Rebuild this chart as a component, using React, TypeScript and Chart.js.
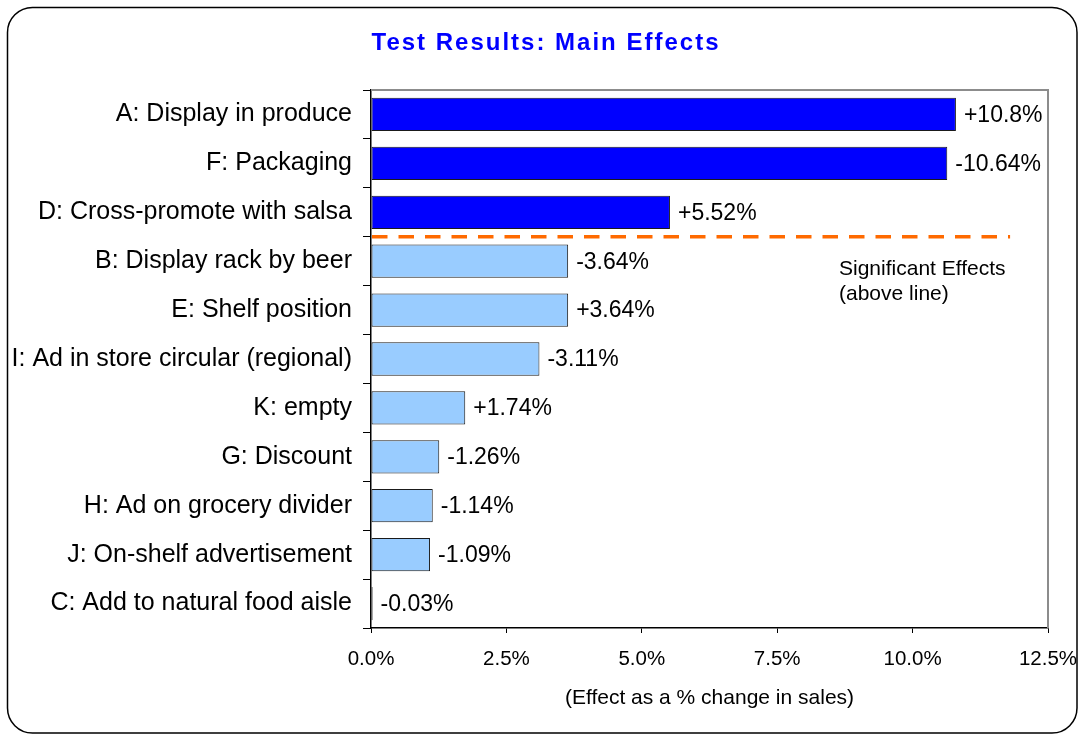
import React, { useEffect, useRef } from "react";
import { Chart, registerables } from "chart.js";

Chart.register(...registerables);

const categories = [
  "A: Display in produce",
  "F: Packaging",
  "D: Cross-promote with salsa",
  "B: Display rack by beer",
  "E: Shelf position",
  "I: Ad in store circular (regional)",
  "K: empty",
  "G: Discount",
  "H: Ad on grocery divider",
  "J: On-shelf advertisement",
  "C: Add to natural food aisle",
];
const effects = [10.8, 10.64, 5.52, 3.64, 3.64, 3.11, 1.74, 1.26, 1.14, 1.09, 0.03];
const effectLabels = [
  "+10.8%",
  "-10.64%",
  "+5.52%",
  "-3.64%",
  "+3.64%",
  "-3.11%",
  "+1.74%",
  "-1.26%",
  "-1.14%",
  "-1.09%",
  "-0.03%",
];
const significant = [true, true, true, false, false, false, false, false, false, false, false];
const xTicks = [0, 2.5, 5, 7.5, 10, 12.5];
const thresholdBoundary = 2.5; // between D and B
const thresholdLineEnd = 11.8;
const chartTitle = "Test Results: Main Effects";
const xAxisTitle = "(Effect as a % change in sales)";
const noteLines = ["Significant Effects", "(above line)"];

const FONT = "'Liberation Sans', Arial, Helvetica, sans-serif";

const decorPlugin = {
  id: "decor",
  beforeDraw(chart: any) {
    const ctx = chart.ctx;
    ctx.save();
    ctx.fillStyle = "#ffffff";
    ctx.fillRect(0, 0, chart.width, chart.height);
    ctx.beginPath();
    ctx.lineWidth = 1.5;
    ctx.strokeStyle = "#000000";
    (ctx as any).roundRect(7.5, 7.5, 1069.5, 725.5, 25);
    ctx.stroke();
    ctx.restore();
  },
  afterDraw(chart: any) {
    const ctx = chart.ctx;
    const area = chart.chartArea;
    const xs = chart.scales.x;
    const ys = chart.scales.y;
    ctx.save();
    // gray top/right frame
    ctx.strokeStyle = "#8c8c8c";
    ctx.lineWidth = 2;
    ctx.beginPath();
    ctx.moveTo(area.left, area.top);
    ctx.lineTo(area.right, area.top);
    ctx.lineTo(area.right, area.bottom);
    ctx.stroke();

    // threshold dashed line
    const ly = ys.getPixelForValue(thresholdBoundary);
    ctx.strokeStyle = "#ff6a00";
    ctx.lineWidth = 3.5;
    ctx.setLineDash([15.5, 11]);
    ctx.beginPath();
    ctx.moveTo(xs.getPixelForValue(0) + 1, ly);
    ctx.lineTo(xs.getPixelForValue(thresholdLineEnd), ly);
    ctx.stroke();
    ctx.setLineDash([]);

    // data labels
    const meta = chart.getDatasetMeta(0);
    ctx.fillStyle = "#000000";
    ctx.font = `23px ${FONT}`;
    ctx.textAlign = "left";
    ctx.textBaseline = "middle";
    meta.data.forEach((bar: any, i: number) => {
      ctx.fillText(effectLabels[i], bar.x + 8, bar.y + 1);
    });

    // note
    ctx.font = `21px ${FONT}`;
    ctx.textBaseline = "alphabetic";
    ctx.fillText(noteLines[0], 839, 275);
    ctx.fillText(noteLines[1], 839, 300);

    // axis title
    ctx.textAlign = "center";
    ctx.fillText(xAxisTitle, (area.left + area.right) / 2, 704);

    // chart title
    ctx.fillStyle = "#0000ff";
    ctx.font = `bold 24px ${FONT}`;
    (ctx as any).letterSpacing = "2px";
    ctx.fillText(chartTitle, 546, 50);
    (ctx as any).letterSpacing = "0px";
    ctx.restore();
  },
};

export default function App() {
  const ref = useRef<HTMLCanvasElement | null>(null);
  useEffect(() => {
    if (!ref.current) return;
    const chart = new Chart(ref.current, {
      type: "bar",
      data: {
        labels: categories,
        datasets: [
          {
            data: effects,
            backgroundColor: significant.map((s) => (s ? "#0000ff" : "#99ccff")),
            borderColor: "#1a1a1a",
            borderWidth: 1,
            borderSkipped: false,
            barPercentage: 0.68,
            categoryPercentage: 1,
          },
        ],
      },
      options: {
        indexAxis: "y",
        responsive: false,
        animation: false,
        devicePixelRatio: 1,
        layout: { padding: { top: 90, right: 31, left: 0, bottom: 0 } },
        plugins: {
          legend: { display: false },
          title: { display: false },
          tooltip: { enabled: false },
        },
        scales: {
          x: {
            type: "linear",
            min: 0,
            max: 12.5,
            afterBuildTicks: (scale: any) => {
              scale.ticks = xTicks.map((v) => ({ value: v }));
            },
            afterFit: (scale: any) => {
              scale.height = 106;
              scale.paddingLeft = 0;
              scale.paddingRight = 0;
            },
            ticks: {
              autoSkip: false,
              maxRotation: 0,
              padding: 14,
              color: "#000",
              font: { family: FONT, size: 20.5 },
              callback: (v: any) => Number(v).toFixed(1) + "%",
            },
            grid: {
              drawOnChartArea: false,
              drawTicks: true,
              tickLength: 5,
              color: "#000",
            },
            border: { display: true, color: "#000", width: 1.5 },
          },
          y: {
            type: "category",
            afterFit: (scale: any) => {
              scale.width = 371;
              scale.paddingTop = 0;
              scale.paddingBottom = 0;
            },
            ticks: {
              autoSkip: false,
              padding: 11,
              color: "#000",
              font: { family: FONT, size: 25 },
            },
            grid: {
              offset: true,
              drawOnChartArea: false,
              drawTicks: true,
              tickLength: 8,
              color: "#000",
            },
            border: { display: true, color: "#000", width: 1.5 },
          },
        },
      },
      plugins: [decorPlugin],
    } as any);
    return () => chart.destroy();
  }, []);
  return (
    <div style={{ position: "absolute", left: 0, top: 0, width: 1079, height: 734, background: "#fff" }}>
      <canvas ref={ref} width={1079} height={734} style={{ display: "block", width: 1079, height: 734 }} />
    </div>
  );
}
